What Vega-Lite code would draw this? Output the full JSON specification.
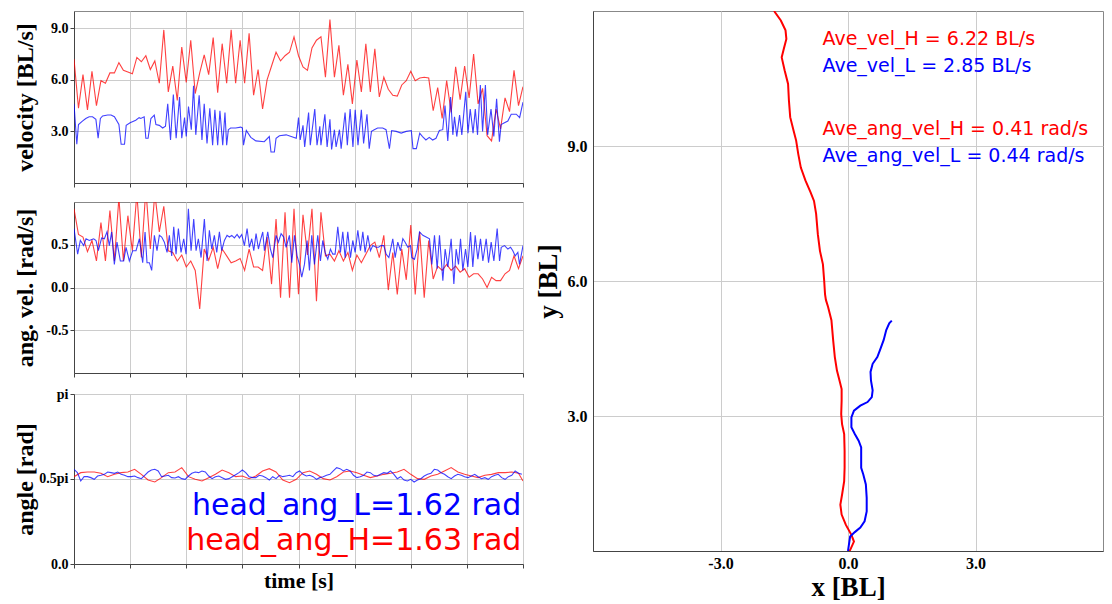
{
  "$schema": "https://vega.github.io/schema/vega-lite/v6.json",
  "background": "white",
  "padding": {"left": 12, "top": 10, "right": 5, "bottom": 5},
  "config": {
    "view": {"stroke": "#888888", "strokeWidth": 1},
    "axis": {
      "labelFont": "Liberation Serif", "labelFontWeight": "bold", "labelColor": "#000000",
      "titleFont": "Liberation Serif", "titleFontWeight": "bold", "titleColor": "#000000",
      "gridColor": "#cccccc", "gridWidth": 1, "domainColor": "#444444", "tickColor": "#444444"
    }
  },
  "datasets": {
    "vH": [{"t":0,"v":7.2},{"t":0.08,"v":4.35},{"t":0.16,"v":6.3},{"t":0.24,"v":4.25},{"t":0.32,"v":6.5},{"t":0.4,"v":4.5},{"t":0.48,"v":5.95},{"t":0.56,"v":5.8},{"t":0.64,"v":6.4},{"t":0.72,"v":6.4},
      {"t":0.8,"v":7.0},{"t":0.88,"v":6.55},{"t":0.96,"v":6.45},{"t":1.04,"v":6.35},{"t":1.12,"v":7.3},{"t":1.2,"v":7.05},{"t":1.28,"v":7.4},{"t":1.36,"v":6.6},{"t":1.44,"v":7.1},{"t":1.52,"v":5.8},
      {"t":1.6,"v":8.9},{"t":1.68,"v":5.3},{"t":1.76,"v":6.8},{"t":1.84,"v":4.8},{"t":1.92,"v":7.9},{"t":2.0,"v":5.85},{"t":2.08,"v":8.3},{"t":2.16,"v":5.2},{"t":2.24,"v":6.4},{"t":2.32,"v":7.45},
      {"t":2.4,"v":6.3},{"t":2.48,"v":8.45},{"t":2.56,"v":5.25},{"t":2.64,"v":8.1},{"t":2.72,"v":5.8},{"t":2.8,"v":8.9},{"t":2.88,"v":5.8},{"t":2.96,"v":8.3},{"t":3.04,"v":5.8},{"t":3.12,"v":8.7},
      {"t":3.2,"v":5.1},{"t":3.28,"v":6.6},{"t":3.36,"v":4.3},{"t":3.44,"v":6.0},{"t":3.52,"v":6.8},{"t":3.6,"v":7.6},{"t":3.68,"v":7.1},{"t":3.76,"v":7.4},{"t":3.84,"v":7.6},{"t":3.92,"v":8.5},
      {"t":4.0,"v":7.4},{"t":4.08,"v":6.75},{"t":4.16,"v":6.55},{"t":4.24,"v":7.85},{"t":4.32,"v":8.3},{"t":4.4,"v":8.5},{"t":4.48,"v":6.15},{"t":4.56,"v":9.5},{"t":4.64,"v":6.15},{"t":4.72,"v":8.0},
      {"t":4.8,"v":5.1},{"t":4.88,"v":6.9},{"t":4.96,"v":4.6},{"t":5.04,"v":7.15},{"t":5.12,"v":5.3},{"t":5.2,"v":8.1},{"t":5.28,"v":5.3},{"t":5.36,"v":7.8},{"t":5.44,"v":5.0},{"t":5.52,"v":6.15},
      {"t":5.6,"v":5.45},{"t":5.68,"v":5.1},{"t":5.76,"v":5.05},{"t":5.84,"v":5.7},{"t":5.92,"v":5.95},{"t":6.0,"v":6.5},{"t":6.08,"v":5.95},{"t":6.16,"v":6.1},{"t":6.24,"v":6.15},{"t":6.32,"v":6.1},
      {"t":6.4,"v":4.2},{"t":6.48,"v":5.55},{"t":6.56,"v":3.75},{"t":6.64,"v":5.95},{"t":6.72,"v":4.1},{"t":6.8,"v":6.75},{"t":6.88,"v":4.85},{"t":6.96,"v":6.8},{"t":7.04,"v":4.95},{"t":7.12,"v":7.5},
      {"t":7.2,"v":4.6},{"t":7.28,"v":5.5},{"t":7.36,"v":2.75},{"t":7.44,"v":2.45},{"t":7.52,"v":4.3},{"t":7.6,"v":3.15},{"t":7.68,"v":4.95},{"t":7.76,"v":4.15},{"t":7.84,"v":6.55},{"t":7.92,"v":4.5},
      {"t":8.0,"v":5.6}],
    "vL": [{"t":0,"v":4.6},{"t":0.05,"v":2.25},{"t":0.08,"v":3.4},{"t":0.15,"v":3.6},{"t":0.21,"v":3.75},{"t":0.27,"v":3.85},{"t":0.33,"v":3.85},{"t":0.39,"v":3.7},{"t":0.43,"v":2.6},{"t":0.47,"v":3.75},
      {"t":0.51,"v":3.9},{"t":0.6,"v":3.95},{"t":0.66,"v":3.95},{"t":0.72,"v":3.85},{"t":0.8,"v":3.4},{"t":0.84,"v":2.25},{"t":0.9,"v":2.25},{"t":0.93,"v":3.35},{"t":1.0,"v":3.5},{"t":1.1,"v":3.65},
      {"t":1.16,"v":3.8},{"t":1.19,"v":3.75},{"t":1.25,"v":3.85},{"t":1.28,"v":2.6},{"t":1.32,"v":2.6},{"t":1.37,"v":3.75},{"t":1.43,"v":3.95},{"t":1.46,"v":3.4},{"t":1.52,"v":3.35},{"t":1.58,"v":3.2},
      {"t":1.63,"v":3.3},{"t":1.67,"v":4.6},{"t":1.72,"v":2.5},{"t":1.77,"v":5.15},{"t":1.82,"v":2.6},{"t":1.88,"v":5.0},{"t":1.92,"v":2.6},{"t":1.97,"v":3.8},{"t":2.0,"v":2.7},{"t":2.04,"v":4.45},
      {"t":2.09,"v":3.1},{"t":2.13,"v":5.65},{"t":2.17,"v":2.8},{"t":2.23,"v":5.1},{"t":2.28,"v":2.5},{"t":2.32,"v":4.6},{"t":2.37,"v":2.3},{"t":2.42,"v":4.35},{"t":2.47,"v":2.2},{"t":2.51,"v":4.25},
      {"t":2.56,"v":2.2},{"t":2.6,"v":4.2},{"t":2.65,"v":2.2},{"t":2.69,"v":4.1},{"t":2.72,"v":2.2},{"t":2.75,"v":3.1},{"t":2.79,"v":3.2},{"t":2.88,"v":3.2},{"t":2.97,"v":3.25},{"t":3.0,"v":3.2},
      {"t":3.02,"v":2.2},{"t":3.07,"v":3.05},{"t":3.15,"v":2.65},{"t":3.24,"v":2.45},{"t":3.39,"v":2.4},{"t":3.48,"v":2.7},{"t":3.51,"v":1.8},{"t":3.57,"v":1.8},{"t":3.6,"v":2.6},{"t":3.66,"v":2.75},
      {"t":3.78,"v":2.8},{"t":3.87,"v":2.7},{"t":3.96,"v":2.6},{"t":4.0,"v":3.8},{"t":4.03,"v":2.5},{"t":4.08,"v":3.35},{"t":4.11,"v":2.1},{"t":4.18,"v":4.1},{"t":4.21,"v":2.2},{"t":4.29,"v":4.3},
      {"t":4.33,"v":2.2},{"t":4.38,"v":3.3},{"t":4.4,"v":2.2},{"t":4.47,"v":4.0},{"t":4.51,"v":2.1},{"t":4.56,"v":3.7},{"t":4.59,"v":1.95},{"t":4.64,"v":3.1},{"t":4.67,"v":2.1},{"t":4.73,"v":3.1},
      {"t":4.76,"v":2.0},{"t":4.83,"v":4.1},{"t":4.87,"v":2.2},{"t":4.92,"v":4.3},{"t":4.97,"v":2.1},{"t":5.01,"v":4.25},{"t":5.06,"v":2.2},{"t":5.12,"v":4.25},{"t":5.16,"v":2.3},{"t":5.22,"v":4.0},
      {"t":5.26,"v":2.0},{"t":5.3,"v":3.0},{"t":5.35,"v":3.1},{"t":5.41,"v":3.2},{"t":5.5,"v":3.2},{"t":5.56,"v":3.1},{"t":5.62,"v":2.0},{"t":5.66,"v":3.05},{"t":5.74,"v":3.0},{"t":5.83,"v":2.9},
      {"t":5.92,"v":3.0},{"t":6.01,"v":3.05},{"t":6.04,"v":2.0},{"t":6.1,"v":2.0},{"t":6.16,"v":2.9},{"t":6.21,"v":2.7},{"t":6.27,"v":2.5},{"t":6.33,"v":2.65},{"t":6.39,"v":2.5},{"t":6.45,"v":2.6},
      {"t":6.51,"v":3.05},{"t":6.57,"v":3.1},{"t":6.61,"v":4.5},{"t":6.66,"v":2.45},{"t":6.71,"v":5.0},{"t":6.75,"v":2.8},{"t":6.78,"v":3.85},{"t":6.82,"v":2.7},{"t":6.87,"v":3.95},{"t":6.91,"v":2.8},
      {"t":6.98,"v":5.3},{"t":7.02,"v":2.9},{"t":7.06,"v":4.3},{"t":7.11,"v":2.9},{"t":7.15,"v":4.3},{"t":7.19,"v":2.8},{"t":7.24,"v":5.7},{"t":7.28,"v":3.0},{"t":7.33,"v":5.7},{"t":7.37,"v":2.8},
      {"t":7.43,"v":4.3},{"t":7.48,"v":2.7},{"t":7.53,"v":4.9},{"t":7.58,"v":2.4},{"t":7.61,"v":3.4},{"t":7.67,"v":3.5},{"t":7.73,"v":3.6},{"t":7.79,"v":4.0},{"t":7.88,"v":4.0},{"t":7.94,"v":3.8},
      {"t":8.0,"v":4.7}],
    "wH": [{"t":0,"v":0.92},{"t":0.08,"v":0.62},{"t":0.16,"v":0.59},{"t":0.24,"v":0.42},{"t":0.32,"v":0.55},{"t":0.4,"v":0.31},{"t":0.48,"v":0.76},{"t":0.56,"v":0.31},{"t":0.64,"v":0.9},{"t":0.72,"v":0.31},
      {"t":0.8,"v":1.05},{"t":0.88,"v":0.31},{"t":0.96,"v":0.84},{"t":1.04,"v":0.43},{"t":1.12,"v":1.1},{"t":1.2,"v":0.35},{"t":1.28,"v":1.15},{"t":1.36,"v":0.45},{"t":1.44,"v":1.1},{"t":1.52,"v":0.65},
      {"t":1.6,"v":0.95},{"t":1.68,"v":0.43},{"t":1.76,"v":0.41},{"t":1.84,"v":0.31},{"t":1.92,"v":0.38},{"t":2.0,"v":0.24},{"t":2.08,"v":0.31},{"t":2.16,"v":0.2},{"t":2.24,"v":-0.25},{"t":2.32,"v":0.45},
      {"t":2.4,"v":0.32},{"t":2.48,"v":0.47},{"t":2.56,"v":0.22},{"t":2.64,"v":0.45},{"t":2.72,"v":0.37},{"t":2.8,"v":0.29},{"t":2.88,"v":0.31},{"t":2.96,"v":0.34},{"t":3.04,"v":0.2},{"t":3.12,"v":0.45},
      {"t":3.2,"v":0.24},{"t":3.28,"v":0.24},{"t":3.36,"v":0.2},{"t":3.44,"v":0.59},{"t":3.52,"v":0.04},{"t":3.6,"v":0.8},{"t":3.68,"v":-0.12},{"t":3.76,"v":0.88},{"t":3.84,"v":-0.12},{"t":3.92,"v":0.92},
      {"t":4.0,"v":-0.08},{"t":4.08,"v":0.85},{"t":4.16,"v":0.38},{"t":4.24,"v":0.92},{"t":4.32,"v":-0.16},{"t":4.4,"v":0.88},{"t":4.48,"v":0.37},{"t":4.56,"v":0.39},{"t":4.64,"v":0.31},{"t":4.72,"v":0.43},
      {"t":4.8,"v":0.31},{"t":4.88,"v":0.41},{"t":4.96,"v":0.2},{"t":5.04,"v":0.38},{"t":5.12,"v":0.29},{"t":5.2,"v":0.39},{"t":5.28,"v":0.49},{"t":5.36,"v":0.53},{"t":5.44,"v":0.35},{"t":5.52,"v":0.61},
      {"t":5.6,"v":-0.03},{"t":5.68,"v":0.41},{"t":5.76,"v":-0.08},{"t":5.84,"v":0.45},{"t":5.92,"v":0.09},{"t":6.0,"v":0.73},{"t":6.08,"v":-0.08},{"t":6.16,"v":0.65},{"t":6.24,"v":-0.12},{"t":6.32,"v":0.55},
      {"t":6.4,"v":0.1},{"t":6.48,"v":0.25},{"t":6.56,"v":0.2},{"t":6.64,"v":0.27},{"t":6.72,"v":0.2},{"t":6.8,"v":0.25},{"t":6.88,"v":0.18},{"t":6.96,"v":0.22},{"t":7.04,"v":0.12},{"t":7.12,"v":0.16},
      {"t":7.2,"v":0.16},{"t":7.28,"v":0.1},{"t":7.36,"v":0.0},{"t":7.44,"v":0.12},{"t":7.52,"v":0.08},{"t":7.6,"v":0.08},{"t":7.68,"v":0.16},{"t":7.76,"v":0.2},{"t":7.84,"v":0.37},{"t":7.92,"v":0.22},
      {"t":8.0,"v":0.37}],
    "wL": [{"t":0,"v":0.69},{"t":0.065,"v":0.39},{"t":0.113,"v":0.55},{"t":0.172,"v":0.49},{"t":0.214,"v":0.57},{"t":0.273,"v":0.55},{"t":0.351,"v":0.57},{"t":0.392,"v":0.55},{"t":0.434,"v":0.43},{"t":0.493,"v":0.58},
      {"t":0.541,"v":0.57},{"t":0.588,"v":0.65},{"t":0.63,"v":0.49},{"t":0.671,"v":0.65},{"t":0.719,"v":0.27},{"t":0.766,"v":0.53},{"t":0.826,"v":0.31},{"t":0.885,"v":0.31},{"t":0.927,"v":0.47},{"t":0.986,"v":0.31},
      {"t":1.046,"v":0.43},{"t":1.105,"v":0.43},{"t":1.165,"v":0.57},{"t":1.224,"v":0.29},{"t":1.266,"v":0.65},{"t":1.301,"v":0.29},{"t":1.343,"v":0.29},{"t":1.384,"v":0.2},{"t":1.432,"v":0.61},{"t":1.479,"v":0.43},
      {"t":1.521,"v":0.61},{"t":1.563,"v":0.59},{"t":1.61,"v":0.53},{"t":1.658,"v":0.41},{"t":1.699,"v":0.61},{"t":1.741,"v":0.37},{"t":1.777,"v":0.71},{"t":1.818,"v":0.39},{"t":1.86,"v":0.69},{"t":1.907,"v":0.41},
      {"t":1.955,"v":0.57},{"t":1.996,"v":0.39},{"t":2.038,"v":0.92},{"t":2.086,"v":0.43},{"t":2.133,"v":0.8},{"t":2.175,"v":0.43},{"t":2.216,"v":0.57},{"t":2.264,"v":0.35},{"t":2.323,"v":0.8},{"t":2.371,"v":0.31},
      {"t":2.412,"v":0.67},{"t":2.454,"v":0.45},{"t":2.501,"v":0.61},{"t":2.543,"v":0.41},{"t":2.591,"v":0.65},{"t":2.632,"v":0.43},{"t":2.68,"v":0.55},{"t":2.727,"v":0.61},{"t":2.769,"v":0.59},{"t":2.811,"v":0.61},
      {"t":2.858,"v":0.58},{"t":2.906,"v":0.62},{"t":2.947,"v":0.58},{"t":2.989,"v":0.62},{"t":3.036,"v":0.49},{"t":3.084,"v":0.69},{"t":3.125,"v":0.47},{"t":3.167,"v":0.57},{"t":3.203,"v":0.43},{"t":3.244,"v":0.63},
      {"t":3.286,"v":0.45},{"t":3.322,"v":0.55},{"t":3.363,"v":0.65},{"t":3.393,"v":0.43},{"t":3.452,"v":0.65},{"t":3.5,"v":0.45},{"t":3.541,"v":0.35},{"t":3.601,"v":0.61},{"t":3.642,"v":0.53},{"t":3.69,"v":0.63},
      {"t":3.737,"v":0.59},{"t":3.779,"v":0.47},{"t":3.838,"v":0.61},{"t":3.88,"v":0.29},{"t":3.928,"v":0.61},{"t":3.975,"v":0.37},{"t":4.017,"v":0.27},{"t":4.058,"v":0.12},{"t":4.106,"v":0.27},{"t":4.153,"v":0.55},
      {"t":4.195,"v":0.2},{"t":4.236,"v":0.61},{"t":4.284,"v":0.27},{"t":4.343,"v":0.61},{"t":4.391,"v":0.31},{"t":4.432,"v":0.55},{"t":4.474,"v":0.41},{"t":4.522,"v":0.33},{"t":4.569,"v":0.45},{"t":4.611,"v":0.39},
      {"t":4.652,"v":0.39},{"t":4.7,"v":0.71},{"t":4.747,"v":0.41},{"t":4.789,"v":0.65},{"t":4.831,"v":0.35},{"t":4.878,"v":0.65},{"t":4.926,"v":0.35},{"t":4.967,"v":0.55},{"t":5.009,"v":0.41},{"t":5.057,"v":0.67},
      {"t":5.104,"v":0.43},{"t":5.146,"v":0.65},{"t":5.187,"v":0.41},{"t":5.235,"v":0.61},{"t":5.282,"v":0.43},{"t":5.324,"v":0.49},{"t":5.383,"v":0.47},{"t":5.425,"v":0.47},{"t":5.472,"v":0.49},{"t":5.52,"v":0.49},
      {"t":5.561,"v":0.39},{"t":5.61,"v":0.35},{"t":5.68,"v":0.57},{"t":5.722,"v":0.35},{"t":5.769,"v":0.53},{"t":5.817,"v":0.43},{"t":5.859,"v":0.57},{"t":5.9,"v":0.53},{"t":5.948,"v":0.47},{"t":5.995,"v":0.49},
      {"t":6.019,"v":0.35},{"t":6.066,"v":0.33},{"t":6.114,"v":0.45},{"t":6.156,"v":0.65},{"t":6.215,"v":0.61},{"t":6.275,"v":0.59},{"t":6.334,"v":0.57},{"t":6.376,"v":0.27},{"t":6.423,"v":0.61},{"t":6.471,"v":0.22},
      {"t":6.512,"v":0.61},{"t":6.572,"v":0.08},{"t":6.613,"v":0.45},{"t":6.661,"v":0.24},{"t":6.72,"v":0.57},{"t":6.768,"v":0.04},{"t":6.809,"v":0.45},{"t":6.851,"v":0.27},{"t":6.887,"v":0.57},{"t":6.928,"v":0.2},
      {"t":6.976,"v":0.45},{"t":7.017,"v":0.24},{"t":7.065,"v":0.65},{"t":7.106,"v":0.24},{"t":7.148,"v":0.61},{"t":7.196,"v":0.33},{"t":7.243,"v":0.57},{"t":7.285,"v":0.31},{"t":7.344,"v":0.57},{"t":7.386,"v":0.29},
      {"t":7.433,"v":0.53},{"t":7.481,"v":0.31},{"t":7.54,"v":0.69},{"t":7.582,"v":0.31},{"t":7.612,"v":0.47},{"t":7.671,"v":0.49},{"t":7.731,"v":0.45},{"t":7.778,"v":0.47},{"t":7.819,"v":0.43},{"t":7.861,"v":0.37},
      {"t":7.908,"v":0.41},{"t":7.938,"v":0.27},{"t":8.0,"v":0.49}],
    "aH": [{"t":0,"v":1.614},{"t":0.12,"v":1.688},{"t":0.24,"v":1.7},{"t":0.36,"v":1.7},{"t":0.48,"v":1.676},{"t":0.6,"v":1.614},{"t":0.72,"v":1.657},{"t":0.84,"v":1.688},{"t":0.96,"v":1.7},{"t":1.08,"v":1.75},
      {"t":1.2,"v":1.657},{"t":1.32,"v":1.552},{"t":1.44,"v":1.515},{"t":1.56,"v":1.596},{"t":1.68,"v":1.688},{"t":1.8,"v":1.7},{"t":1.92,"v":1.781},{"t":2.04,"v":1.614},{"t":2.16,"v":1.565},{"t":2.28,"v":1.534},
      {"t":2.4,"v":1.596},{"t":2.52,"v":1.657},{"t":2.64,"v":1.737},{"t":2.76,"v":1.688},{"t":2.88,"v":1.614},{"t":3.0,"v":1.626},{"t":3.12,"v":1.577},{"t":3.24,"v":1.626},{"t":3.36,"v":1.719},{"t":3.48,"v":1.762},
      {"t":3.6,"v":1.7},{"t":3.72,"v":1.552},{"t":3.84,"v":1.503},{"t":3.96,"v":1.565},{"t":4.08,"v":1.688},{"t":4.2,"v":1.719},{"t":4.32,"v":1.657},{"t":4.44,"v":1.577},{"t":4.56,"v":1.552},{"t":4.68,"v":1.614},
      {"t":4.8,"v":1.7},{"t":4.92,"v":1.719},{"t":5.04,"v":1.688},{"t":5.16,"v":1.639},{"t":5.28,"v":1.596},{"t":5.4,"v":1.626},{"t":5.52,"v":1.657},{"t":5.64,"v":1.676},{"t":5.76,"v":1.7},{"t":5.88,"v":1.75},
      {"t":6.0,"v":1.657},{"t":6.12,"v":1.577},{"t":6.24,"v":1.565},{"t":6.36,"v":1.626},{"t":6.48,"v":1.657},{"t":6.6,"v":1.719},{"t":6.72,"v":1.781},{"t":6.84,"v":1.7},{"t":6.96,"v":1.657},{"t":7.08,"v":1.626},
      {"t":7.2,"v":1.596},{"t":7.32,"v":1.639},{"t":7.44,"v":1.657},{"t":7.56,"v":1.688},{"t":7.68,"v":1.688},{"t":7.8,"v":1.7},{"t":7.92,"v":1.676},{"t":8.0,"v":1.534}],
    "aL": [{"t":0,"v":1.75},{"t":0.06,"v":1.688},{"t":0.12,"v":1.534},{"t":0.18,"v":1.614},{"t":0.24,"v":1.614},{"t":0.3,"v":1.596},{"t":0.36,"v":1.565},{"t":0.42,"v":1.626},{"t":0.48,"v":1.639},{"t":0.54,"v":1.657},
      {"t":0.6,"v":1.7},{"t":0.66,"v":1.688},{"t":0.72,"v":1.676},{"t":0.78,"v":1.7},{"t":0.84,"v":1.657},{"t":0.9,"v":1.639},{"t":0.96,"v":1.614},{"t":1.02,"v":1.614},{"t":1.08,"v":1.626},{"t":1.14,"v":1.596},
      {"t":1.2,"v":1.577},{"t":1.26,"v":1.639},{"t":1.32,"v":1.7},{"t":1.38,"v":1.737},{"t":1.44,"v":1.75},{"t":1.5,"v":1.719},{"t":1.56,"v":1.614},{"t":1.62,"v":1.626},{"t":1.68,"v":1.639},{"t":1.74,"v":1.596},
      {"t":1.8,"v":1.589},{"t":1.86,"v":1.614},{"t":1.92,"v":1.577},{"t":1.98,"v":1.565},{"t":2.04,"v":1.626},{"t":2.1,"v":1.676},{"t":2.16,"v":1.7},{"t":2.22,"v":1.688},{"t":2.28,"v":1.719},{"t":2.34,"v":1.7},
      {"t":2.4,"v":1.626},{"t":2.46,"v":1.577},{"t":2.52,"v":1.614},{"t":2.58,"v":1.626},{"t":2.64,"v":1.596},{"t":2.7,"v":1.565},{"t":2.76,"v":1.577},{"t":2.82,"v":1.614},{"t":2.88,"v":1.651},{"t":2.94,"v":1.688},
      {"t":3.0,"v":1.737},{"t":3.06,"v":1.688},{"t":3.12,"v":1.614},{"t":3.18,"v":1.596},{"t":3.24,"v":1.596},{"t":3.3,"v":1.639},{"t":3.36,"v":1.626},{"t":3.42,"v":1.596},{"t":3.48,"v":1.552},{"t":3.54,"v":1.614},
      {"t":3.6,"v":1.577},{"t":3.66,"v":1.639},{"t":3.72,"v":1.614},{"t":3.78,"v":1.626},{"t":3.84,"v":1.639},{"t":3.9,"v":1.614},{"t":3.96,"v":1.688},{"t":4.02,"v":1.719},{"t":4.08,"v":1.657},{"t":4.14,"v":1.626},
      {"t":4.2,"v":1.639},{"t":4.26,"v":1.614},{"t":4.32,"v":1.565},{"t":4.38,"v":1.596},{"t":4.44,"v":1.614},{"t":4.5,"v":1.639},{"t":4.56,"v":1.657},{"t":4.62,"v":1.719},{"t":4.68,"v":1.781},{"t":4.74,"v":1.762},
      {"t":4.8,"v":1.719},{"t":4.86,"v":1.75},{"t":4.92,"v":1.719},{"t":4.98,"v":1.639},{"t":5.04,"v":1.596},{"t":5.1,"v":1.614},{"t":5.16,"v":1.639},{"t":5.22,"v":1.7},{"t":5.28,"v":1.688},{"t":5.34,"v":1.639},
      {"t":5.4,"v":1.626},{"t":5.46,"v":1.657},{"t":5.52,"v":1.688},{"t":5.58,"v":1.676},{"t":5.64,"v":1.719},{"t":5.7,"v":1.657},{"t":5.76,"v":1.577},{"t":5.82,"v":1.614},{"t":5.88,"v":1.552},{"t":5.94,"v":1.534},
      {"t":6.0,"v":1.565},{"t":6.06,"v":1.515},{"t":6.12,"v":1.552},{"t":6.18,"v":1.577},{"t":6.24,"v":1.626},{"t":6.3,"v":1.657},{"t":6.36,"v":1.676},{"t":6.42,"v":1.75},{"t":6.48,"v":1.737},{"t":6.54,"v":1.688},
      {"t":6.6,"v":1.657},{"t":6.66,"v":1.614},{"t":6.72,"v":1.577},{"t":6.78,"v":1.626},{"t":6.84,"v":1.657},{"t":6.9,"v":1.639},{"t":6.96,"v":1.614},{"t":7.02,"v":1.596},{"t":7.08,"v":1.626},{"t":7.14,"v":1.657},
      {"t":7.2,"v":1.614},{"t":7.26,"v":1.577},{"t":7.32,"v":1.596},{"t":7.38,"v":1.565},{"t":7.44,"v":1.614},{"t":7.5,"v":1.639},{"t":7.56,"v":1.657},{"t":7.62,"v":1.596},{"t":7.68,"v":1.565},{"t":7.74,"v":1.614},
      {"t":7.8,"v":1.639},{"t":7.86,"v":1.719},{"t":7.92,"v":1.676},{"t":7.98,"v":1.657}],
    "trH": [{"k":0,"x":0.0,"y":0.0},{"k":1,"x":0.05,"y":0.02},{"k":2,"x":0.14,"y":0.21},{"k":3,"x":0.08,"y":0.36},{"k":4,"x":-0.05,"y":0.58},{"k":5,"x":-0.15,"y":0.81},{"k":6,"x":-0.18,"y":1.03},{"k":7,"x":-0.14,"y":1.25},{"k":8,"x":-0.09,"y":1.55},{"k":9,"x":-0.08,"y":1.85},
      {"k":10,"x":-0.08,"y":2.22},{"k":11,"x":-0.09,"y":2.6},{"k":12,"x":-0.14,"y":2.82},{"k":13,"x":-0.16,"y":3.04},{"k":14,"x":-0.15,"y":3.34},{"k":15,"x":-0.15,"y":3.6},{"k":16,"x":-0.2,"y":3.79},{"k":17,"x":-0.26,"y":4.01},{"k":18,"x":-0.31,"y":4.31},{"k":19,"x":-0.35,"y":4.69},
      {"k":20,"x":-0.39,"y":5.13},{"k":21,"x":-0.47,"y":5.43},{"k":22,"x":-0.52,"y":5.58},{"k":23,"x":-0.54,"y":5.7},{"k":24,"x":-0.56,"y":6.0},{"k":25,"x":-0.59,"y":6.37},{"k":26,"x":-0.66,"y":6.67},{"k":27,"x":-0.71,"y":7.04},{"k":28,"x":-0.75,"y":7.49},{"k":29,"x":-0.8,"y":7.78},
      {"k":30,"x":-0.88,"y":7.97},{"k":31,"x":-1.0,"y":8.23},{"k":32,"x":-1.11,"y":8.52},{"k":33,"x":-1.17,"y":8.82},{"k":34,"x":-1.22,"y":9.12},{"k":35,"x":-1.28,"y":9.34},{"k":36,"x":-1.36,"y":9.64},{"k":37,"x":-1.39,"y":10.01},{"k":38,"x":-1.41,"y":10.38},{"k":39,"x":-1.49,"y":10.68},
      {"k":40,"x":-1.56,"y":10.97},{"k":41,"x":-1.51,"y":11.16},{"k":42,"x":-1.45,"y":11.38},{"k":43,"x":-1.47,"y":11.57},{"k":44,"x":-1.58,"y":11.79},{"k":45,"x":-1.74,"y":12.0}],
    "trL": [{"k":0,"x":0.0,"y":0.0},{"k":1,"x":0.02,"y":0.13},{"k":2,"x":0.05,"y":0.32},{"k":3,"x":0.16,"y":0.42},{"k":4,"x":0.29,"y":0.52},{"k":5,"x":0.39,"y":0.66},{"k":6,"x":0.44,"y":0.88},{"k":7,"x":0.44,"y":1.18},{"k":8,"x":0.42,"y":1.48},{"k":9,"x":0.36,"y":1.7},
      {"k":10,"x":0.31,"y":1.85},{"k":11,"x":0.31,"y":2.15},{"k":12,"x":0.31,"y":2.3},{"k":13,"x":0.25,"y":2.45},{"k":14,"x":0.16,"y":2.6},{"k":15,"x":0.08,"y":2.75},{"k":16,"x":0.08,"y":2.97},{"k":17,"x":0.14,"y":3.12},{"k":18,"x":0.29,"y":3.23},{"k":19,"x":0.46,"y":3.31},
      {"k":20,"x":0.56,"y":3.42},{"k":21,"x":0.58,"y":3.57},{"k":22,"x":0.54,"y":3.79},{"k":23,"x":0.53,"y":3.98},{"k":24,"x":0.58,"y":4.16},{"k":25,"x":0.69,"y":4.31},{"k":26,"x":0.75,"y":4.46},{"k":27,"x":0.84,"y":4.69},{"k":28,"x":0.9,"y":4.91},{"k":29,"x":0.97,"y":5.06},
      {"k":30,"x":1.03,"y":5.12}]
  },
  "spacing": 9,
  "hconcat": [
    {
      "spacing": 8,
      "vconcat": [
        {
          "spacing": 13,
          "vconcat": [
            {
              "width": 449, "height": 172,
              "encoding": {
                "x": {"field": "t", "type": "quantitative", "scale": {"domain": [0, 8], "nice": false, "zero": false},
                      "axis": {"values": [0,1,2,3,4,5,6,7,8], "labels": false, "title": null, "tickSize": 4, "grid": true}},
                "y": {"field": "v", "type": "quantitative", "scale": {"domain": [0, 10], "nice": false},
                      "axis": {"values": [3, 6, 9], "format": ".1f", "labelFontSize": 14, "tickSize": 4, "labelPadding": 2,
                               "title": "velocity [BL/s]", "titleFontSize": 24, "titleX": -49, "titleBaseline": "middle"}}
              },
              "layer": [
                {"data": {"name": "vH"}, "mark": {"type": "line", "color": "#ff0000", "strokeWidth": 1.1, "opacity": 0.75, "clip": true}},
                {"data": {"name": "vL"}, "mark": {"type": "line", "color": "#0000ff", "strokeWidth": 1.1, "opacity": 0.75, "clip": true}}
              ]
            },
            {
              "width": 449, "height": 171,
              "encoding": {
                "x": {"field": "t", "type": "quantitative", "scale": {"domain": [0, 8], "nice": false, "zero": false},
                      "axis": {"values": [0,1,2,3,4,5,6,7,8], "labels": false, "title": null, "tickSize": 4, "grid": true}},
                "y": {"field": "v", "type": "quantitative", "scale": {"domain": [-1, 1], "nice": false, "zero": false},
                      "axis": {"values": [-0.5, 0, 0.5], "labelExpr": "(datum.value < 0 ? '-' : '') + format(abs(datum.value), '.1f')", "labelFontSize": 14, "tickSize": 4, "labelPadding": 2,
                               "title": "ang. vel. [rad/s]", "titleFontSize": 24, "titleX": -49, "titleBaseline": "middle"}}
              },
              "layer": [
                {"data": {"name": "wH"}, "mark": {"type": "line", "color": "#ff0000", "strokeWidth": 1.1, "opacity": 0.75, "clip": true}},
                {"data": {"name": "wL"}, "mark": {"type": "line", "color": "#0000ff", "strokeWidth": 1.1, "opacity": 0.75, "clip": true}}
              ]
            }
          ]
        },
        {
          "width": 449, "height": 170,
          "encoding": {
            "x": {"field": "t", "type": "quantitative", "scale": {"domain": [0, 8], "nice": false, "zero": false},
                  "axis": {"values": [0,1,2,3,4,5,6,7,8], "labels": false, "tickSize": 4, "grid": true,
                           "title": "time [s]", "titleFontSize": 22, "titleY": 16, "titleBaseline": "middle"}},
            "y": {"field": "v", "type": "quantitative", "scale": {"domain": [0, 3.14159], "nice": false},
                  "axis": {"values": [0, 1.5708, 3.14159], "labelExpr": "datum.value < 0.1 ? '0.0' : (datum.value < 2 ? '0.5pi' : 'pi')", "labelFontSize": 14, "tickSize": 4, "labelPadding": 2,
                           "title": "angle [rad]", "titleFontSize": 24, "titleX": -49, "titleBaseline": "middle"}}
          },
          "layer": [
            {"data": {"name": "aH"}, "mark": {"type": "line", "color": "#ff0000", "strokeWidth": 1.1, "opacity": 0.75, "clip": true}},
            {"data": {"name": "aL"}, "mark": {"type": "line", "color": "#0000ff", "strokeWidth": 1.1, "opacity": 0.75, "clip": true}},
            {"data": {"values": [{"t": 7.97, "v": 1.07, "label": "head_ang_L=1.62 rad"}]},
             "mark": {"type": "text", "align": "right", "baseline": "middle", "font": "DejaVu Sans", "fontSize": 30, "color": "#0000ff"},
             "encoding": {"text": {"field": "label"}}},
            {"data": {"values": [{"t": 7.97, "v": 0.43, "label": "head_ang_H=1.63 rad"}]},
             "mark": {"type": "text", "align": "right", "baseline": "middle", "font": "DejaVu Sans", "fontSize": 30, "color": "#ff0000"},
             "encoding": {"text": {"field": "label"}}}
          ]
        }
      ]
    },
    {
      "width": 510, "height": 540,
      "encoding": {
        "x": {"field": "x", "type": "quantitative", "scale": {"domain": [-6, 6], "nice": false, "zero": false},
              "axis": {"values": [-3, 0, 3], "labelExpr": "(datum.value < 0 ? '-' : '') + format(abs(datum.value), '.1f')", "labelFontSize": 16, "tickSize": 0, "labelPadding": 4,
                       "title": "x [BL]", "titleFontSize": 27, "titleY": 36, "titleBaseline": "middle"}},
        "y": {"field": "y", "type": "quantitative", "scale": {"domain": [0, 12], "nice": false},
              "axis": {"values": [3, 6, 9], "format": ".1f", "labelFontSize": 16, "tickSize": 0, "labelPadding": 6,
                       "title": "y [BL]", "titleFontSize": 27, "titleX": -45, "titleBaseline": "middle"}},
        "order": {"field": "k", "type": "quantitative"}
      },
      "layer": [
        {"data": {"name": "trH"}, "mark": {"type": "line", "color": "#ff0000", "strokeWidth": 2, "clip": true}},
        {"data": {"name": "trL"}, "mark": {"type": "line", "color": "#0000ff", "strokeWidth": 2, "clip": true}},
        {"data": {"values": [
            {"x": -0.6, "y": 11.37, "label": "Ave_vel_H = 6.22 BL/s", "s": "H"},
            {"x": -0.6, "y": 10.77, "label": "Ave_vel_L = 2.85 BL/s", "s": "L"},
            {"x": -0.6, "y": 9.37, "label": "Ave_ang_vel_H = 0.41 rad/s", "s": "H"},
            {"x": -0.6, "y": 8.77, "label": "Ave_ang_vel_L = 0.44 rad/s", "s": "L"}]},
         "mark": {"type": "text", "align": "left", "baseline": "middle", "font": "DejaVu Sans", "fontSize": 19},
         "encoding": {"text": {"field": "label"}, "order": null,
                      "color": {"field": "s", "type": "nominal", "scale": {"domain": ["H", "L"], "range": ["#ff0000", "#0000ff"]}, "legend": null}}}
      ]
    }
  ]
}
